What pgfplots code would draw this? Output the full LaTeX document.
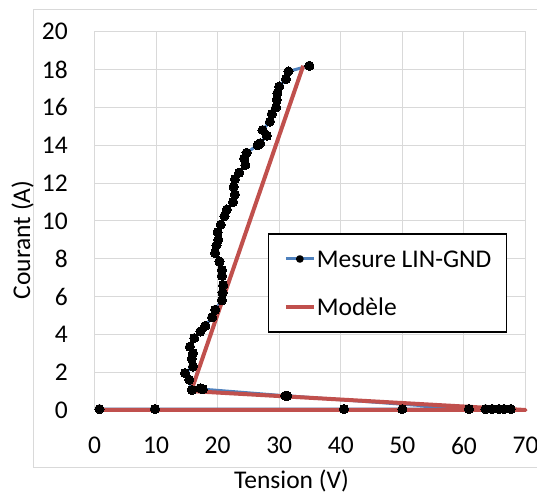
\documentclass[border=0pt]{standalone}
\usepackage{pgfplots}
\pgfplotsset{compat=1.18}
\usepackage{fontspec}
\setmainfont{Carlito}
\definecolor{mblue}{HTML}{4F81BD}
\definecolor{mred}{HTML}{C0504D}
\definecolor{gridc}{HTML}{D9D9D9}
\newcommand{\bigf}{\fontsize{25.5bp}{30bp}\selectfont}
\begin{document}
\begin{tikzpicture}[x=1bp,y=1bp]
\useasboundingbox (0,0) rectangle (537,497);
\draw[gridc, line width=1bp] (537,29) -- (33,29) -- (33,487.5) -- (537,487.5);
\begin{axis}[
 at={(94.5bp,87bp)}, anchor=south west,
 width=431bp, height=378.3bp, scale only axis,
 xmin=0, xmax=70, ymin=0, ymax=20,
 xtick={0,10,...,70}, ytick={0,2,...,20},
 grid=major, grid style={gridc, line width=1bp},
 axis line style={gridc, line width=1bp},
 major tick length=0pt,
 tick label style={font=\bigf},
 /pgf/number format/assume math mode=true,
 yticklabel style={anchor=east, inner sep=0pt, xshift=-26.5bp},
 xticklabel style={anchor=north, inner sep=0pt, yshift=-27bp},
 clip=false,
 legend style={at={(rel axis cs:0.403,0.467)}, anchor=north west, draw=black, line width=1.3bp,
   font=\bigf, inner xsep=15bp, inner ysep=14.5bp, row sep=27bp, column sep=1bp,
   nodes={inner sep=0pt, text height=19bp, text depth=2bp}, cells={anchor=west}},
 legend image code/.code={\draw[#1] (0bp,0bp) -- (28bp,0bp);},
]
\addplot[mblue, line width=3bp, line join=round, mark=*, mark size=4.6bp,
  mark options={fill=black, draw=black, line width=0pt},
  legend image code/.code={\draw[mblue, line width=3bp] (0bp,0bp) -- (28bp,0bp); \fill[black] (14bp,0bp) circle (2.3bp);}]
coordinates {
(34.9,18.2) (31.5,17.9) (31.1,17.5) (30.0,17.1) (29.7,16.75) (29.6,16.4) (29.5,16.0)
(28.8,15.65) (28.5,15.25) (27.3,14.8) (28.0,14.5) (26.9,14.1) (26.5,14.0) (24.7,13.6)
(24.3,13.3) (24.5,12.95) (23.5,12.55) (22.8,12.2) (22.6,11.8) (22.8,11.4) (22.5,11.0)
(21.5,10.6) (21.1,10.25) (20.5,9.8) (20.0,9.4) (20.1,9.0) (19.8,8.7) (19.6,8.3)
(20.3,7.85) (20.7,7.4) (20.7,7.1) (20.9,6.6) (20.8,6.2) (20.7,5.8) (19.6,5.3)
(19.1,4.9) (18.0,4.45) (17.2,4.15) (16.2,3.8) (15.5,3.35) (16.0,3.0) (15.8,2.7)
(16.0,2.3) (14.7,1.95) (15.4,1.6) (15.8,1.06) (17.2,1.15) (17.6,1.1) (31.0,0.75)
(31.3,0.75) (60.8,0.05) (63.5,0.05) (64.6,0.05) (65.7,0.05) (66.5,0.05) (67.6,0.05)
(50.0,0.05) (40.5,0.05) (9.8,0.05) (0.8,0.05)
};
\addlegendentry{Mesure LIN-GND}
\addplot[mred, line width=4bp, line join=round]
coordinates {(33.9,18.2) (15.7,1.0) (70,0) (0.7,0)};
\addlegendentry{Modèle}
\end{axis}
\node[font=\bigf, rotate=90, anchor=base] at (30,257) {Courant (A)};
\node[font=\bigf, anchor=base] at (291.5,8.5) {Tension (V)};
\end{tikzpicture}
\end{document}
